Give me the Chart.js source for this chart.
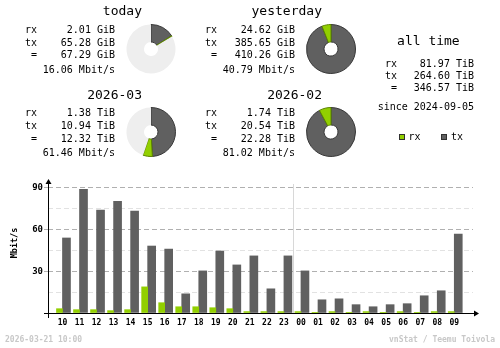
<!DOCTYPE html>
<html>
<head>
<meta charset="utf-8">
<script src="https://cdn.jsdelivr.net/npm/chart.js@4/dist/chart.umd.min.js"></script>
<style>
  html, body { margin: 0; padding: 0; background: #fff; }
  #page { position: relative; width: 500px; height: 348px; overflow: hidden; background: #fff; }
  #page canvas { position: absolute; }
  .t { position: absolute; white-space: pre; line-height: 1; font-family: "DejaVu Sans Mono", monospace; color: #000; }
  .sq { position: absolute; width: 4px; height: 4px; border: 1px solid #303030; }
</style>
</head>
<body>
<div id="page">
  <canvas id="hourly" width="500" height="348" style="left:0;top:0"></canvas>
</div>
<script>
// summary blocks: today, yesterday, this month, last month
const blockTitles = ['today', 'yesterday', '2026-03', '2026-02'];
const blockUnits = ['GiB', 'GiB', 'TiB', 'TiB'];
const rxAmounts = [2.01, 24.62, 1.38, 1.74];
const txAmounts = [65.28, 385.65, 10.94, 20.54];
const totalAmounts = [67.29, 410.26, 12.32, 22.28];
const avgRates = [16.06, 40.79, 61.46, 81.02];

// all time totals (TiB)
const allTimeRx = 81.97;
const allTimeTx = 264.60;
const allTimeTotal = 346.57;
const sinceDate = '2024-09-05';

// hourly average rates, Mbit/s
const hours = ['10', '11', '12', '13', '14', '15', '16', '17', '18', '19', '20', '21',
               '22', '23', '00', '01', '02', '03', '04', '05', '06', '07', '08', '09'];
const rxRate = [3.1, 2.4, 2.4, 1.7, 2.4, 18.8, 7.4, 4.5, 4.5, 3.8, 3.1, 1.0,
                1.0, 1.0, 1.0, 0.2, 1.0, 0.2, 1.0, 0.2, 1.0, 0.2, 1.0, 1.0];
const txRate = [54.0, 89.0, 74.0, 80.3, 73.3, 48.2, 46.0, 13.8, 30.3, 44.6, 34.6, 41.1,
                17.4, 41.1, 30.3, 9.5, 10.2, 6.0, 4.5, 6.0, 6.7, 12.4, 16.0, 56.8];
const yTicks = [30, 60, 90];

const stamp = '2026-03-21 10:00';
const credit = 'vnStat / Teemu Toivola';

const RX = '#92cf00', TX = '#606060';
const page = document.getElementById('page');

function put(text, x, base, size, align, extra) {
  const d = document.createElement('div');
  d.className = 't';
  d.textContent = text;
  d.style.fontSize = size + 'px';
  d.style.top = (base - size * 0.846) + 'px';
  if (align === 'right') d.style.right = (500 - x) + 'px';
  else if (align === 'center') { d.style.left = x + 'px'; d.style.transform = 'translateX(-50%)'; }
  else d.style.left = x + 'px';
  if (extra) Object.assign(d.style, extra);
  page.appendChild(d);
}

function pie(cx, cy, rx, tx, rest) {
  const c = document.createElement('canvas');
  c.width = 50; c.height = 50;
  c.style.left = (cx - 25) + 'px';
  c.style.top = (cy - 25) + 'px';
  page.appendChild(c);
  new Chart(c, {
    type: 'doughnut',
    data: {
      datasets: [{
        data: [tx, rx, rest],
        backgroundColor: [TX, RX, '#eeeeee'],
        borderColor: ['#383838', '#5c8400', '#eeeeee'],
        borderWidth: [1, 1, 0],
        hoverOffset: 0
      }]
    },
    options: {
      responsive: false,
      animation: false,
      devicePixelRatio: 1,
      cutout: 7,
      events: [],
      plugins: { legend: { display: false }, tooltip: { enabled: false } }
    }
  });
}

// four summary blocks, two per row
blockTitles.forEach((title, i) => {
  const dx = (i % 2) * 180;
  const dy = Math.floor(i / 2) * 83.3;
  const u = ' ' + blockUnits[i];
  put(title, 142 + dx, 15.3 + dy, 13, 'right');
  put('rx', 25 + dx, 33.3 + dy, 10);
  put('tx', 25 + dx, 46 + dy, 10);
  put(' =', 25 + dx, 58.7 + dy, 10);
  put(rxAmounts[i].toFixed(2) + u, 115 + dx, 33.3 + dy, 10, 'right');
  put(txAmounts[i].toFixed(2) + u, 115 + dx, 46 + dy, 10, 'right');
  put(totalAmounts[i].toFixed(2) + u, 115 + dx, 58.7 + dy, 10, 'right');
  put(avgRates[i].toFixed(2) + ' Mbit/s', 115 + dx, 73.3 + dy, 10, 'right');

  // ring is scaled against the bigger total of the pair
  const pairMax = Math.max(totalAmounts[i - (i % 2)], totalAmounts[i - (i % 2) + 1]);
  pie(150.5 + dx, 49 + dy, rxAmounts[i], txAmounts[i], pairMax - totalAmounts[i]);
});

// all time column
put('all time', 428.4, 45, 13, 'center');
put('rx', 385, 67.3, 10);
put('tx', 385, 79.3, 10);
put(' =', 385, 91.7, 10);
put(allTimeRx.toFixed(2) + ' TiB', 474, 67.3, 10, 'right');
put(allTimeTx.toFixed(2) + ' TiB', 474, 79.3, 10, 'right');
put(allTimeTotal.toFixed(2) + ' TiB', 474, 91.7, 10, 'right');
put('since ' + sinceDate, 474, 110.7, 10, 'right');

// legend
[['rx', RX, 398.5], ['tx', TX, 441]].forEach(([name, col, x]) => {
  const s = document.createElement('div');
  s.className = 'sq';
  s.style.left = x + 'px';
  s.style.top = '134px';
  s.style.background = col;
  page.appendChild(s);
  put(name, x + 10, 140, 10);
});

// footer
put(stamp, 5, 342.7, 8, 'left', { color: '#c8c8c8', fontWeight: 'bold' });
put(credit, 495, 342.7, 8, 'right', { color: '#c8c8c8', fontWeight: 'bold' });

// axes with arrows, day boundary and unit label
const axisLines = {
  id: 'axisLines',
  beforeDatasetsDraw(chart) {
    const { ctx, chartArea: a, scales: { x } } = chart;
    const split = hours.indexOf('00');
    const xs = Math.round((x.getPixelForValue(split - 1) + 8 + x.getPixelForValue(split) - 6) / 2) + 0.5;
    ctx.save();
    ctx.strokeStyle = '#d8d8d8';
    ctx.lineWidth = 1;
    ctx.beginPath();
    ctx.moveTo(xs, a.top + 3);
    ctx.lineTo(xs, a.bottom);
    ctx.stroke();
    ctx.restore();
  },
  afterDatasetsDraw(chart) {
    const { ctx, chartArea: a } = chart;
    const ax = a.left + 0.5, ay = a.bottom + 0.5;
    ctx.save();
    ctx.strokeStyle = '#000';
    ctx.fillStyle = '#000';
    ctx.lineWidth = 1;
    ctx.beginPath();
    ctx.moveTo(ax, a.top);
    ctx.lineTo(ax, a.bottom + 5);
    ctx.moveTo(a.left - 4, ay);
    ctx.lineTo(a.right + 4, ay);
    ctx.stroke();
    ctx.beginPath();
    ctx.moveTo(ax, a.top - 2);
    ctx.lineTo(ax - 3, a.top + 3);
    ctx.lineTo(ax + 3, a.top + 3);
    ctx.closePath();
    ctx.fill();
    ctx.beginPath();
    ctx.moveTo(a.right + 6, ay);
    ctx.lineTo(a.right + 1, ay - 3);
    ctx.lineTo(a.right + 1, ay + 3);
    ctx.closePath();
    ctx.fill();
    ctx.translate(14.5, 243);
    ctx.rotate(-Math.PI / 2);
    ctx.font = 'bold 8.5px "DejaVu Sans Mono"';
    ctx.textAlign = 'center';
    ctx.textBaseline = 'middle';
    ctx.fillText('Mbit/s', 0, 0);
    ctx.restore();
  }
};

new Chart(document.getElementById('hourly'), {
  type: 'bar',
  data: {
    datasets: [
      { label: 'rx', data: rxRate.map((v, i) => ({ x: i, y: v })), backgroundColor: RX, barThickness: 6 },
      { label: 'tx', data: txRate.map((v, i) => ({ x: i, y: v })), backgroundColor: TX, barThickness: 8 }
    ]
  },
  options: {
    responsive: false,
    animation: false,
    devicePixelRatio: 1,
    events: [],
    layout: { padding: { left: 0, top: 181, right: 27, bottom: 0 } },
    plugins: { legend: { display: false }, tooltip: { enabled: false } },
    scales: {
      x: {
        type: 'linear',
        min: -0.85,
        max: 24.1,
        offset: false,
        border: { display: false },
        grid: { display: true, drawOnChartArea: false, drawTicks: false },
        ticks: {
          stepSize: 1,
          includeBounds: false,
          autoSkip: false,
          maxRotation: 0,
          padding: 5,
          color: '#000',
          font: { family: 'DejaVu Sans Mono', size: 8, weight: 'bold' },
          callback: v => hours[v]
        },
        afterFit: s => { s.height = 35; }
      },
      y: {
        min: 0,
        max: 95,
        border: { display: false, dash: [5, 3] },
        grid: {
          color: c => c.tick.value === 0 ? 'rgba(0,0,0,0)' : (c.tick.value % 30 === 0 ? '#b0b0b0' : '#e2e2e2'),
          tickColor: c => yTicks.includes(c.tick.value) ? '#b0b0b0' : 'rgba(0,0,0,0)',
          tickLength: 4
        },
        ticks: {
          stepSize: 15,
          includeBounds: false,
          padding: 1,
          color: '#000',
          font: { family: 'DejaVu Sans Mono', size: 9, weight: 'bold' },
          callback: v => yTicks.includes(v) ? String(v) : ''
        },
        afterFit: s => { s.width = 48; }
      }
    }
  },
  plugins: [axisLines]
});
</script>
</body>
</html>
